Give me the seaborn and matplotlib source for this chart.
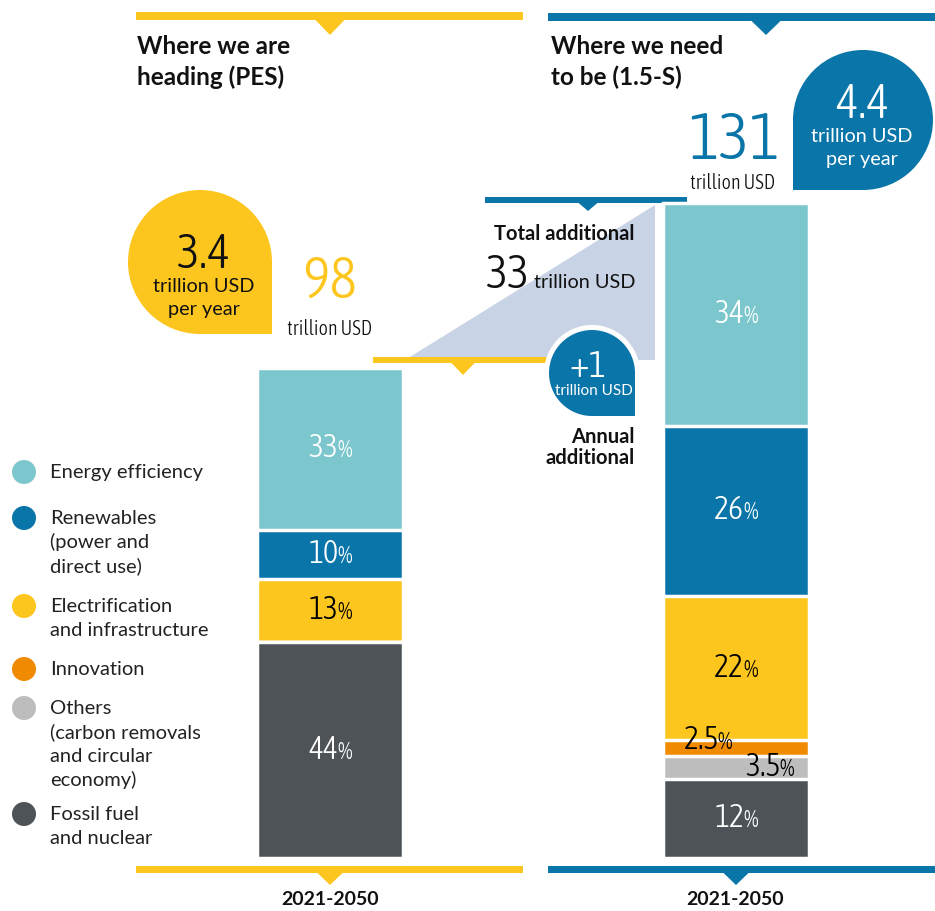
import matplotlib
matplotlib.use("Agg")
import matplotlib.pyplot as plt
import seaborn as sns
import pandas as pd
import numpy as np
from matplotlib import font_manager as fm
from matplotlib.patches import Polygon, Circle, Rectangle
from matplotlib.offsetbox import TextArea, HPacker, AnnotationBbox

# ---------------- data ----------------
scenarios = ["PES", "1.5-S"]
totals = [98, 131]                      # trillion USD, 2021-2050
per_year = ["3.4", "4.4"]               # trillion USD per year
categories = ["Energy efficiency", "Renewables", "Electrification and infrastructure",
              "Innovation", "Others", "Fossil fuel and nuclear"]   # top -> bottom
pes_share = [33, 10, 13, 0, 0, 44]
s15_share = [34, 26, 22, 2.5, 3.5, 12]
legend_labels = ["Energy efficiency",
                 "Renewables\n(power and\ndirect use)",
                 "Electrification\nand infrastructure",
                 "Innovation",
                 "Others\n(carbon removals\nand circular\neconomy)",
                 "Fossil fuel\nand nuclear"]
total_additional = "33"
annual_additional = "+1"
period = "2021-2050"

# ---------------- style ----------------
BLUE = "#0A75A8"
YELLOW = "#FDC61E"
seg_colors = ["#7BC7CD", BLUE, YELLOW, "#F08A00", "#BDBDBD", "#4D5357"]
label_colors = ["white", "white", "black", "black", "black", "white"]
TRI = "#C9D3E6"
INK = "#111111"

sns.set_theme(style="white")
plt.rcParams["font.family"] = ["Lato", "DejaVu Sans"]


def find_condensed():
    best, best_score = None, 1e9
    cond_words = ("condensed", "narrow")
    for f in fm.fontManager.ttflist:
        nm = f.name.lower()
        fn = f.fname.lower()
        st = f.stretch
        is_cond = any(w in nm for w in cond_words) or any(w in fn for w in cond_words)
        if isinstance(st, str) and "condensed" in st:
            is_cond = True
        if isinstance(st, (int, float)) and st < 500:
            is_cond = True
        if not is_cond:
            continue
        if f.style != "normal" or "italic" in fn or "oblique" in fn:
            continue
        w = f.weight
        if not isinstance(w, (int, float)):
            w = {"light": 300, "normal": 400, "regular": 400, "book": 400,
                 "medium": 500}.get(str(w), 700)
        score = abs(w - 330)
        if "extra" in fn or "ultra" in fn or "semi" in fn:
            score += 60
        if score < best_score:
            best, best_score = f.fname, score
    return best


COND = find_condensed()


def cond(size):
    if COND:
        return fm.FontProperties(fname=COND, size=size)
    return fm.FontProperties(family="DejaVu Sans", size=size)


W, H = 935, 911
fig = plt.figure(figsize=(W / 100, H / 100), dpi=100)
fig.patch.set_facecolor("white")

# decoration axes in pixel coordinates (y downwards)
deco = fig.add_axes([0, 0, 1, 1], zorder=0)
deco.set_xlim(0, W)
deco.set_ylim(H, 0)
deco.axis("off")

# bar axes in data units
ax = fig.add_axes([0, 0, 1, 1], zorder=1)
ax.patch.set_alpha(0)

PX_PER_CAT = 406.0
X0 = 330.0
S = 5.0          # px per trillion USD
BASE = 858.0     # pixel row of zero

shares = [pes_share, s15_share]
for i, cat in enumerate(categories):
    cum = [sum(sh[i:]) * t / 100.0 for sh, t in zip(shares, totals)]
    df = pd.DataFrame({"scenario": scenarios, "value": cum})
    sns.barplot(data=df, x="scenario", y="value", order=scenarios, color=seg_colors[i],
                saturation=1, width=0.36, edgecolor="white", linewidth=2.5,
                errorbar=None, ax=ax)

ax.set_xlim((0 - X0) / PX_PER_CAT, (W - X0) / PX_PER_CAT)
ax.set_ylim(-(H - BASE) / S, BASE / S)
ax.axis("off")


def pct_label(x, y, num, color):
    t1 = TextArea(num, textprops=dict(color=color, fontproperties=cond(23)))
    t2 = TextArea("%", textprops=dict(color=color, fontproperties=cond(17)))
    box = HPacker(children=[t1, t2], align="baseline", pad=0, sep=-1)
    ab = AnnotationBbox(box, (x, y), xycoords="data", frameon=False,
                        box_alignment=(0.5, 0.5), pad=0, zorder=5)
    ax.add_artist(ab)


special_offsets = {3: (-28, 8), 4: (34, 0)}   # px offsets for thin segments
for j, (sh, t) in enumerate(zip(shares, totals)):
    for i, v in enumerate(sh):
        if v <= 0:
            continue
        top = sum(sh[i:]) * t / 100.0
        yc = top - v * t / 100.0 / 2
        dx, dy = special_offsets.get(i, (0, 0))
        pct_label(j + dx / PX_PER_CAT, yc + dy / S, f"{v:g}", label_colors[i])

left_top = BASE - S * totals[0]


# ---------------- decorations ----------------
def hline(x0, x1, y0, y1, color, tri_cx, tri_hw, tri_tip):
    deco.add_patch(Rectangle((x0, y0), x1 - x0, y1 - y0, color=color, lw=0, zorder=2))
    deco.add_patch(Polygon([(tri_cx - tri_hw, y1 - 0.5), (tri_cx + tri_hw, y1 - 0.5),
                            (tri_cx, tri_tip)], closed=True, color=color, lw=0, zorder=2))


def teardrop(cx, cy, r, corner, color, z):
    deco.add_patch(Circle((cx, cy), r, color=color, lw=0, zorder=z))
    xy = (cx, cy) if corner == "br" else (cx - r, cy)
    deco.add_patch(Rectangle(xy, r, r, color=color, lw=0, zorder=z))


# top bars
hline(136, 523, 12, 20, YELLOW, 330, 15, 35)
hline(548, W, 13, 21, BLUE, 766, 15, 35)
# bottom bars
hline(136, 523, 866, 873, YELLOW, 330, 13, 885)
hline(548, W, 866, 873, BLUE, 736, 13, 885)

# grey "additional" wedge
ymid = left_top - 8
deco.add_patch(Polygon([(405, ymid), (655, 205), (655, ymid)], closed=True,
                       color=TRI, lw=0, zorder=1))
# middle lines
hline(485, 687, 197, 203, BLUE, 588, 10, 211)
hline(373, 610, ymid - 3, ymid + 3, YELLOW, 463, 12, ymid + 15)

# bubbles
teardrop(200, 262, 72, "br", YELLOW, 3)
teardrop(863, 120, 70, "bl", BLUE, 3)
teardrop(592, 373, 48, "br", "white", 4)
teardrop(592, 373, 43, "br", BLUE, 5)

# titles
for x, lines in [(137, ["Where we are", "heading (PES)"]),
                 (551, ["Where we need", "to be (1.5-S)"])]:
    for k, s in enumerate(lines):
        deco.text(x, 54 + 31 * k, s, fontsize=17.5, fontweight="bold", color=INK,
                  ha="left", va="baseline", zorder=6)

# totals
deco.text(734, 159, f"{totals[1]}", fontproperties=cond(47), color=BLUE,
          ha="center", va="baseline", zorder=6)
deco.text(733, 189, "trillion USD", fontproperties=cond(14.5), color=INK,
          ha="center", va="baseline", zorder=6)
deco.text(330, 298, f"{totals[0]}", fontproperties=cond(42), color=YELLOW,
          ha="center", va="baseline", zorder=6)
deco.text(330, 335, "trillion USD", fontproperties=cond(14.5), color=INK,
          ha="center", va="baseline", zorder=6)

# per-year bubbles text
deco.text(204, 268, per_year[0], fontproperties=cond(35), color=INK,
          ha="center", va="baseline", zorder=6)
deco.text(204, 292, "trillion USD", fontsize=14.3, color=INK, ha="center",
          va="baseline", zorder=6)
deco.text(204, 315, "per year", fontsize=14.3, color=INK, ha="center",
          va="baseline", zorder=6)
deco.text(862, 118, per_year[1], fontproperties=cond(35), color="white",
          ha="center", va="baseline", zorder=6)
deco.text(862, 142, "trillion USD", fontsize=14.3, color="white", ha="center",
          va="baseline", zorder=6)
deco.text(862, 165, "per year", fontsize=14.3, color="white", ha="center",
          va="baseline", zorder=6)

# additional
deco.text(635, 240, "Total additional", fontsize=14.5, fontweight="bold",
          color=INK, ha="right", va="baseline", zorder=6)
deco.text(486, 288, total_additional, fontproperties=cond(34), color=INK,
          ha="left", va="baseline", zorder=6)
deco.text(635, 288, "trillion USD", fontsize=14.3, color=INK, ha="right",
          va="baseline", zorder=6)
deco.text(588, 377, annual_additional, fontproperties=cond(27), color="white",
          ha="center", va="baseline", zorder=7)
deco.text(594, 395, "trillion USD", fontsize=11, color="white", ha="center",
          va="baseline", zorder=7)
deco.text(635, 443, "Annual", fontsize=14.5, fontweight="bold", color=INK,
          ha="right", va="baseline", zorder=6)
deco.text(635, 464, "additional", fontsize=14.5, fontweight="bold", color=INK,
          ha="right", va="baseline", zorder=6)

# legend
legend_y = [472, 518, 606, 669, 708, 814]
for lab, yc, col in zip(legend_labels, legend_y, seg_colors):
    deco.add_patch(Circle((24, yc), 12, color=col, lw=0, zorder=6))
    for k, line in enumerate(lab.split("\n")):
        deco.text(50, yc + 6 + 24 * k, line, fontsize=14.5, color="#222222",
                  ha="left", va="baseline", zorder=6)

# period labels
for xc in (330, 735):
    deco.text(xc, 905, period, fontsize=14, fontweight="bold", color=INK,
              ha="center", va="baseline", zorder=6)

fig.savefig("out.png", dpi=100, facecolor="white")
